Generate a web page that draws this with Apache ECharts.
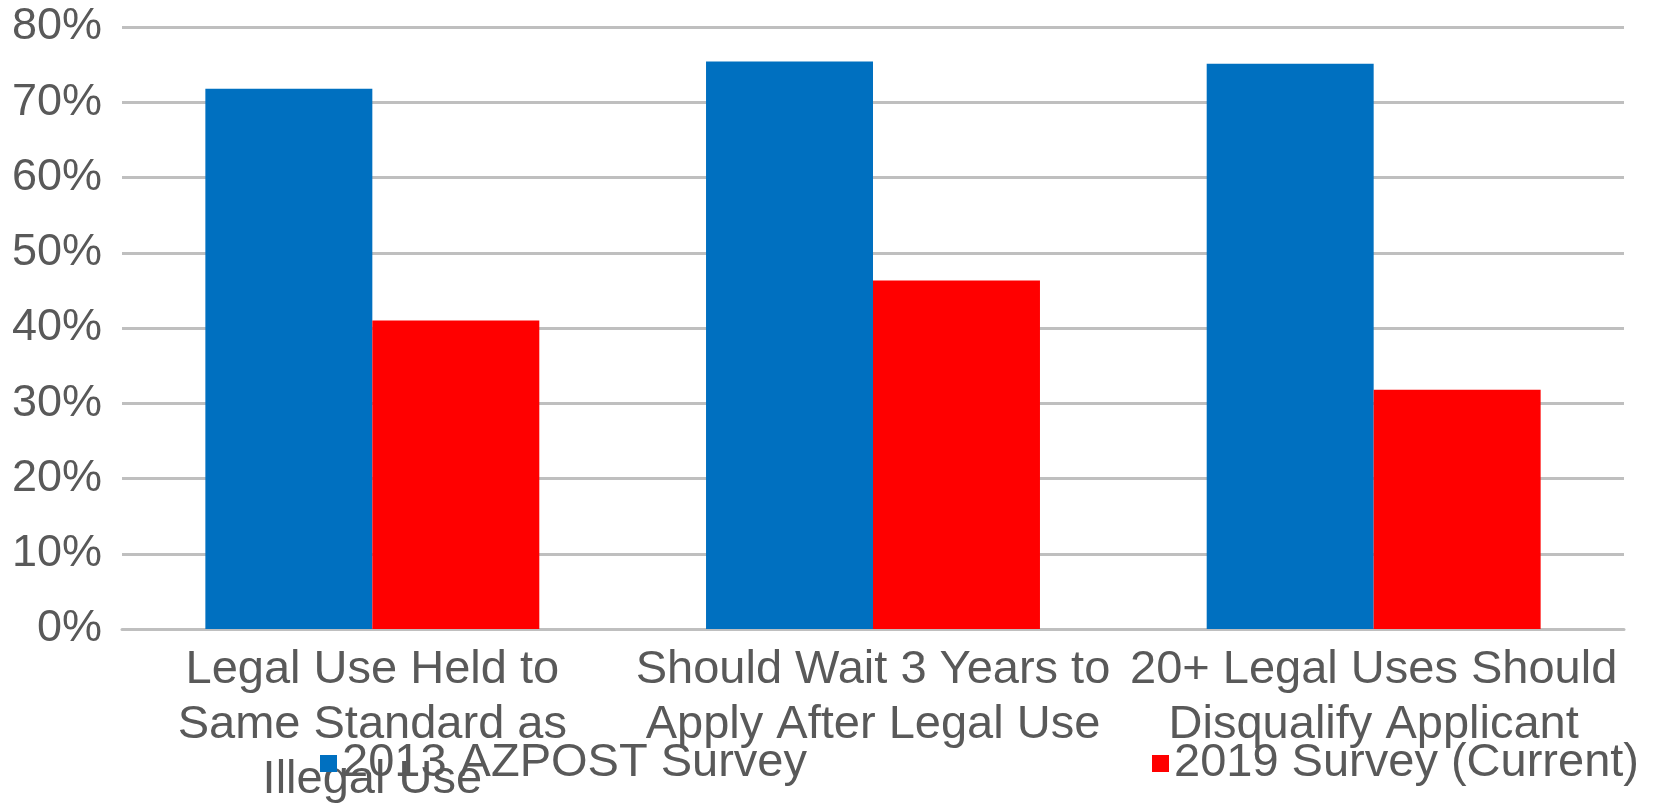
<!DOCTYPE html>
<html>
<head>
<meta charset="utf-8">
<title>Survey comparison</title>
<script src="https://cdn.jsdelivr.net/npm/echarts@6/dist/echarts.min.js"></script>
<style>
  html, body { margin: 0; padding: 0; background: #ffffff; }
  #chart { width: 1667px; height: 808px; }
</style>
</head>
<body>
<div id="chart"></div>
<script>
// Question categories (line breaks as shown under the axis)
const categories = [
  'Legal Use Held to\nSame Standard as\nIllegal Use',
  'Should Wait 3 Years to\nApply After Legal Use',
  '20+ Legal Uses Should\nDisqualify Applicant'
];

// Share of respondents agreeing, in percent
const survey2013 = [71.8, 75.4, 75.1];
const survey2019 = [41.0, 46.3, 31.8];

const seriesNames = ['2013 AZPOST Survey', '2019 Survey (Current)'];
const yTicks = { min: 0, max: 80, step: 10 };

const textGray = '#595959';
const gridGray = '#bfbfbf';
const font = '"Liberation Sans", Arial, sans-serif';

const chart = echarts.init(document.getElementById('chart'), null, { renderer: 'canvas' });

const legendBase = {
  orient: 'horizontal',
  padding: 0,
  itemWidth: 17,
  itemHeight: 17,
  itemGap: 0,
  icon: 'rect',
  selectedMode: false,
  textStyle: { color: textGray, fontSize: 47, fontFamily: font }
};

chart.setOption({
  animation: false,
  backgroundColor: '#ffffff',
  legend: [
    Object.assign({}, legendBase, { data: [seriesNames[0]], left: 320, top: 740 }),
    Object.assign({}, legendBase, { data: [seriesNames[1]], left: 1152, top: 740 })
  ],
  grid: { left: 122, right: 43, top: 27, bottom: 177, containLabel: false },
  xAxis: {
    type: 'category',
    data: categories,
    axisLine: { show: true, lineStyle: { color: gridGray, width: 3 } },
    axisTick: { show: false },
    axisLabel: {
      color: textGray,
      fontSize: 47,
      fontFamily: font,
      lineHeight: 55,
      margin: 14,
      interval: 0
    }
  },
  yAxis: {
    type: 'value',
    min: yTicks.min,
    max: yTicks.max,
    interval: yTicks.step,
    axisLine: { show: false },
    axisTick: { show: false },
    splitLine: { lineStyle: { color: gridGray, width: 3 } },
    axisLabel: {
      formatter: '{value}%',
      color: textGray,
      fontSize: 45,
      fontFamily: font,
      margin: 20
    }
  },
  series: [
    {
      name: seriesNames[0],
      type: 'bar',
      data: survey2013,
      barGap: '0%',
      barCategoryGap: '33.3%',
      itemStyle: { color: '#0070c0' }
    },
    {
      name: seriesNames[1],
      type: 'bar',
      data: survey2019,
      barGap: '0%',
      barCategoryGap: '33.3%',
      itemStyle: { color: '#ff0000' }
    }
  ]
});
</script>
</body>
</html>
